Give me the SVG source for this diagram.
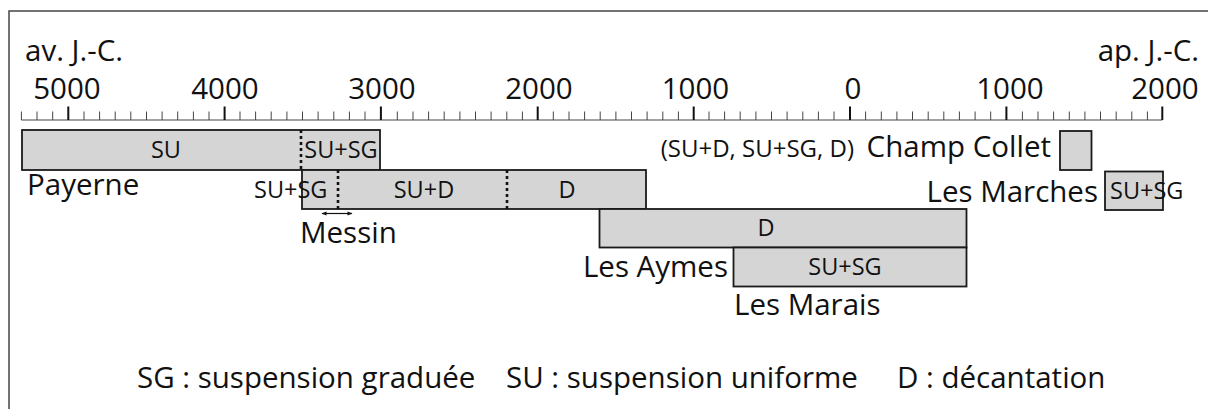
<svg xmlns="http://www.w3.org/2000/svg" width="1208" height="409" viewBox="0 0 1208 409">
  <style>
    text { font-family: "Open Sans", "Noto Sans", "Liberation Sans", sans-serif; fill: #111; }
    .big { font-size: 29.5px; }
    .inner { font-size: 23.5px; }
    .small { font-size: 24px; }
    .mid { text-anchor: middle; }
    .end { text-anchor: end; }
    .bar { fill: #d5d5d5; stroke: #1a1a1a; stroke-width: 1.8; }
    .split { stroke: #111; stroke-width: 2.6; stroke-dasharray: 3 3; fill: none; }
    .minor { stroke: #444; stroke-width: 1; }
    .major { stroke: #111; stroke-width: 2; }
  </style>
  <defs>
    <marker id="head" viewBox="0 0 10 10" refX="9" refY="5" markerWidth="6" markerHeight="5" orient="auto-start-reverse" markerUnits="userSpaceOnUse">
      <path d="M0,1 L10,5 L0,9 z" fill="#111"/>
    </marker>
  </defs>

  <rect width="1208" height="409" fill="#fff"/>
  <!-- frame -->
  <rect x="9" y="11" width="1220" height="420" fill="none" stroke="#444" stroke-width="1.5"/>

  <!-- time axis: 100-year minor ticks, 1000-year major ticks -->
  <g id="axis">
    <text class="big" x="25" y="61">av. J.-C.</text>
    <text class="big end" x="1199" y="61">ap. J.-C.</text>
    <line x1="21.4" y1="120" x2="1162.3" y2="120" stroke="#444" stroke-width="1"/>
    <g class="minor">
      <path d="M21.4 120V111.5M37 120V111.5M52.7 120V111.5M84 120V111.5M99.6 120V111.5M115.2 120V111.5M130.8 120V111.5M146.5 120V111.5M162.1 120V111.5M177.7 120V111.5M193.4 120V111.5M209 120V111.5M240 120V111.5M255.6 120V111.5M271.2 120V111.5M286.9 120V111.5M302.5 120V111.5M318.1 120V111.5M333.8 120V111.5M349.4 120V111.5M365 120V111.5"/>
      <path d="M397.3 120V111.5M413 120V111.5M428.6 120V111.5M444.2 120V111.5M459.9 120V111.5M475.5 120V111.5M491.1 120V111.5M506.8 120V111.5M522.4 120V111.5M553.3 120V111.5M569 120V111.5M584.6 120V111.5M600.2 120V111.5M615.9 120V111.5M631.5 120V111.5M647.1 120V111.5M662.8 120V111.5M678.4 120V111.5"/>
      <path d="M709 120V111.5M724.6 120V111.5M740.2 120V111.5M755.9 120V111.5M771.5 120V111.5M787.1 120V111.5M802.8 120V111.5M818.4 120V111.5M834 120V111.5M865.6 120V111.5M881.3 120V111.5M896.9 120V111.5M912.5 120V111.5M928.2 120V111.5M943.8 120V111.5M959.4 120V111.5M975.1 120V111.5M990.7 120V111.5"/>
      <path d="M1022.4 120V111.5M1038 120V111.5M1053.6 120V111.5M1069.3 120V111.5M1084.9 120V111.5M1100.5 120V111.5M1116.2 120V111.5M1131.8 120V111.5M1147.4 120V111.5"/>
    </g>
    <path class="major" d="M68.3 120V106.5M224.6 120V106.5M380.9 120V106.5M537.7 120V106.5M693.7 120V106.5M850 120V106.5M1006.4 120V106.5M1162.3 120V106.5"/>
    <g class="big mid">
      <text x="67" y="99">5000</text>
      <text x="225" y="99">4000</text>
      <text x="382" y="99">3000</text>
      <text x="539" y="99">2000</text>
      <text x="695.5" y="99">1000</text>
      <text x="853" y="99">0</text>
      <text x="1010" y="99">1000</text>
      <text x="1165" y="99">2000</text>
    </g>
  </g>

  <g id="payerne">
    <rect class="bar" x="22" y="130" width="358" height="40"/>
    <line class="split" x1="301" y1="130" x2="301" y2="170"/>
    <text class="inner mid" x="166" y="158">SU</text>
    <text class="inner mid" x="341" y="158">SU+SG</text>
    <text class="big" x="27" y="195">Payerne</text>
  </g>

  <g id="messin">
    <rect class="bar" x="302" y="170" width="344" height="39"/>
    <line class="split" x1="338" y1="170" x2="338" y2="209"/>
    <line class="split" x1="507" y1="170" x2="507" y2="209"/>
    <text class="inner" x="254" y="197.5">SU+SG</text>
    <text class="inner mid" x="424" y="197.5">SU+D</text>
    <text class="inner mid" x="567" y="197.5">D</text>
    <text class="big" x="300" y="243">Messin</text>
  </g>

  <g id="les-aymes">
    <rect class="bar" x="599.5" y="209" width="367" height="38.5"/>
    <text class="inner mid" x="766" y="235.5">D</text>
    <text class="big end" x="728" y="277">Les Aymes</text>
  </g>

  <g id="les-marais">
    <rect class="bar" x="733.5" y="247.5" width="233" height="39"/>
    <text class="inner mid" x="845" y="275">SU+SG</text>
    <text class="big" x="734" y="315">Les Marais</text>
  </g>

  <g id="champ-collet">
    <rect class="bar" x="1060" y="131" width="31.5" height="39"/>
    <text class="small end" x="854" y="157">(SU+D, SU+SG, D)</text>
    <text class="big end" x="1051" y="157">Champ Collet</text>
  </g>

  <g id="les-marches">
    <rect class="bar" x="1105" y="171.5" width="58" height="38.5"/>
    <text class="inner" x="1110" y="198.5">SU+SG</text>
    <text class="big end" x="1098" y="202">Les Marches</text>
  </g>

  <g id="connectors">
    <line x1="322" y1="213.5" x2="352" y2="213.5" stroke="#111" stroke-width="1.2" marker-start="url(#head)" marker-end="url(#head)"/>
  </g>

  <g id="legend" class="big">
    <text x="137" y="388">SG : suspension graduée</text>
    <text x="506" y="388">SU : suspension uniforme</text>
    <text x="897" y="388">D : décantation</text>
  </g>
</svg>
